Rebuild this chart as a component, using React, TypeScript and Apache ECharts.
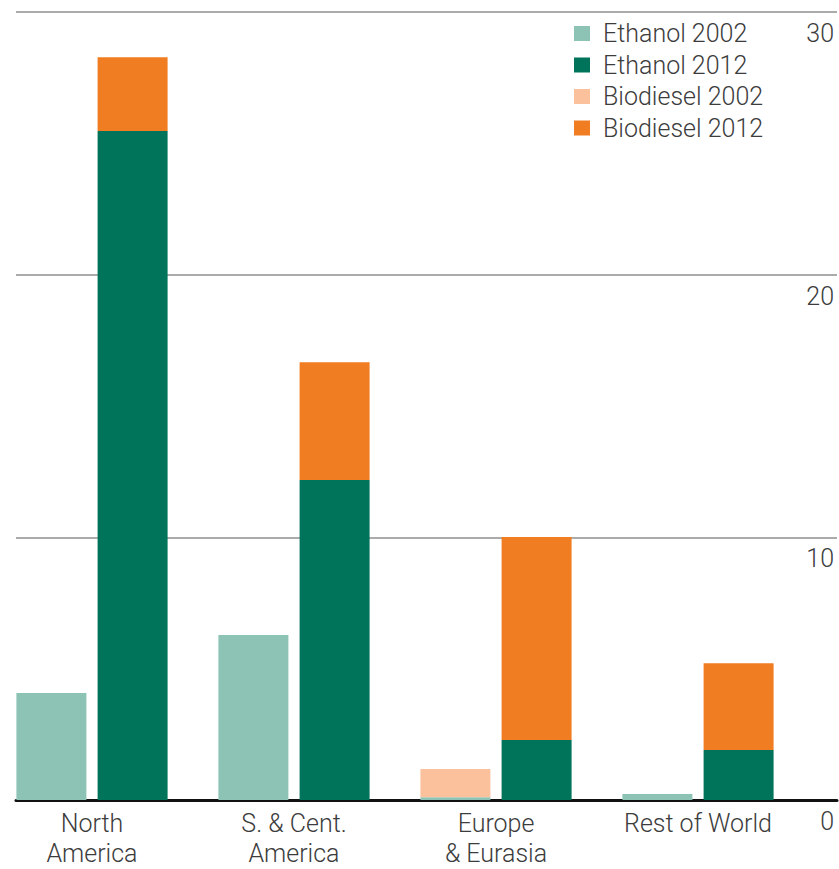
import React, { useEffect, useRef } from "react";
import * as echarts from "echarts";

const categories = ["North\nAmerica", "S. & Cent.\nAmerica", "Europe\n& Eurasia", "Rest of World"];
const ethanol2002 = [4.07, 6.28, 0.1, 0.23];
const biodiesel2002 = [0, 0, 1.08, 0];
const ethanol2012 = [25.47, 12.18, 2.28, 1.9];
const biodiesel2012 = [2.81, 4.49, 7.73, 3.31];
const yTicks = [0, 10, 20, 30];

const FONT = "Roboto";
const TEXT_COLOR = "#3c3c3c";

export default function App() {
  const ref = useRef<HTMLDivElement>(null);
  useEffect(() => {
    if (!ref.current) return;
    const chart = echarts.init(ref.current, undefined, { renderer: "svg" });
    chart.setOption({
      animation: false,
      textStyle: { fontFamily: FONT },
      legend: {
        orient: "vertical",
        left: 569,
        top: 16,
        itemWidth: 16,
        itemHeight: 15,
        itemGap: 6.5,
        icon: "rect",
        data: ["Ethanol 2002", "Ethanol 2012", "Biodiesel 2002", "Biodiesel 2012"],
        textStyle: {
          fontFamily: FONT,
          fontWeight: 300,
          fontSize: 25,
          lineHeight: 25,
          color: TEXT_COLOR,
          padding: [0, 0, 0, 8],
        },
      },
      grid: [
        { left: 16, right: 2, top: 12, bottom: 69, outerBoundsMode: "none" },
        { left: -9, width: 808, top: 12, bottom: 69, outerBoundsMode: "none" },
      ],
      xAxis: [
        {
          gridIndex: 0,
          type: "value",
          min: 0,
          max: 1,
          axisLine: { show: true, onZero: false, lineStyle: { color: "#111", width: 3 } },
          axisTick: { show: false },
          axisLabel: { show: false },
          splitLine: { show: false },
        },
        {
          gridIndex: 1,
          type: "category",
          data: categories,
          axisLine: { show: false },
          axisTick: { show: false },
          axisLabel: {
            margin: 8,
            fontFamily: FONT,
            fontWeight: 300,
            fontSize: 25,
            lineHeight: 30,
            color: TEXT_COLOR,
            verticalAlign: "top",
          },
        },
      ],
      yAxis: [
        {
          gridIndex: 0,
          type: "value",
          position: "right",
          min: 0,
          max: 30,
          interval: 10,
          axisLine: { show: false },
          axisTick: { show: false },
          splitLine: { show: true, lineStyle: { color: "#8f8f8f", width: 1.5 } },
          axisLabel: {
            inside: true,
            margin: 3,
            fontFamily: FONT,
            fontWeight: 300,
            fontSize: 25,
            color: TEXT_COLOR,
            verticalAlign: "top",
            padding: [9, 0, 0, 0],
            formatter: (v: number) => (yTicks.includes(v) ? String(v) : ""),
          },
        },
        {
          gridIndex: 1,
          type: "value",
          min: 0,
          max: 30,
          show: false,
        },
      ],
      series: [
        {
          name: "Ethanol 2002",
          type: "bar",
          xAxisIndex: 1,
          yAxisIndex: 1,
          stack: "a",
          barWidth: 70,
          barGap: "16%",
          itemStyle: { color: "#8cc3b5" },
          data: ethanol2002,
        },
        {
          name: "Biodiesel 2002",
          type: "bar",
          xAxisIndex: 1,
          yAxisIndex: 1,
          stack: "a",
          barWidth: 70,
          barGap: "16%",
          itemStyle: { color: "#fbc19c" },
          data: biodiesel2002,
        },
        {
          name: "Ethanol 2012",
          type: "bar",
          xAxisIndex: 1,
          yAxisIndex: 1,
          stack: "b",
          barWidth: 70,
          barGap: "16%",
          itemStyle: { color: "#00735b" },
          data: ethanol2012,
        },
        {
          name: "Biodiesel 2012",
          type: "bar",
          xAxisIndex: 1,
          yAxisIndex: 1,
          stack: "b",
          barWidth: 70,
          barGap: "16%",
          itemStyle: { color: "#f17d22" },
          data: biodiesel2012,
        },
      ],
    });
    return () => chart.dispose();
  }, []);
  return (
    <div
      ref={ref}
      style={{ position: "absolute", left: 0, top: 0, width: 839, height: 869 }}
    />
  );
}
